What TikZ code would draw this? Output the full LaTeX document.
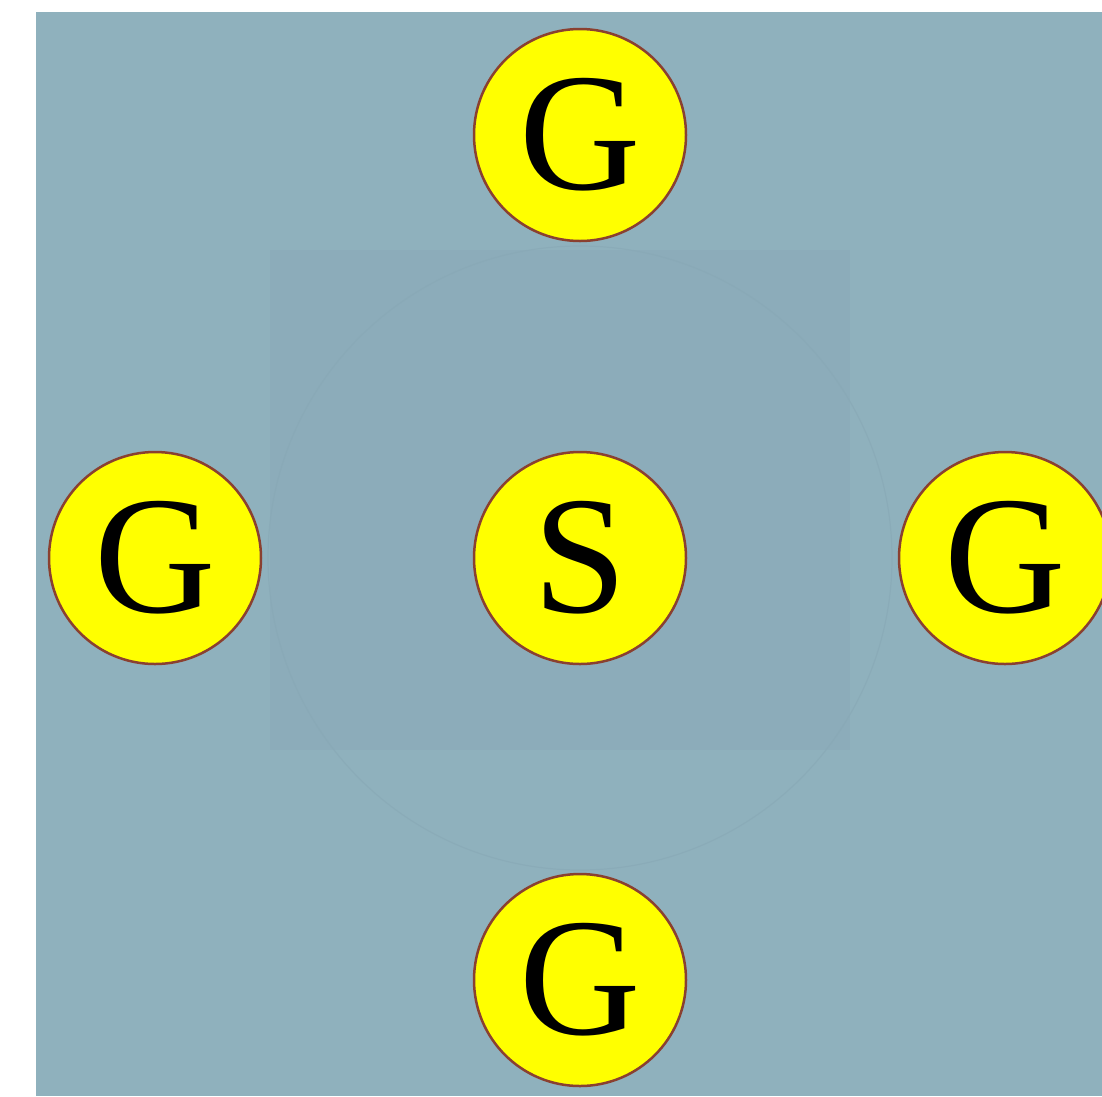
\documentclass[tikz,border=0pt]{standalone}
\usepackage{fontspec}
\setmainfont{Liberation Serif}
\definecolor{bgblue}{HTML}{8FB1BD}
\definecolor{bgdark}{HTML}{8CACBA}
\definecolor{ringcol}{HTML}{88A8B5}
\definecolor{nodeyellow}{HTML}{FFFF00}
\definecolor{nodeborder}{HTML}{8A4030}
\begin{document}
\begin{tikzpicture}[x=1pt,y=-1pt,
  nodecircle/.style={circle, draw=nodeborder, line width=2.5pt, fill=nodeyellow,
    minimum size=212pt, inner sep=0pt,
    font=\fontsize{168}{168}\selectfont, text=black}]
\useasboundingbox (0,0) rectangle (1102,1096);
\fill[white] (0,0) rectangle (1102,1096);
\fill[bgblue] (36,12) rectangle (1102,1096);
\fill[bgdark] (270,250) rectangle (850,750);
\draw[ringcol, line width=1.2pt, opacity=0.6] (580,558) circle (312);
\node[nodecircle] (top) at (580,135) {G};
\node[nodecircle] (left) at (155,558) {G};
\node[nodecircle] (center) at (580,558) {S};
\node[nodecircle] (right) at (1005,558) {G};
\node[nodecircle] (bottom) at (580,980) {G};
\end{tikzpicture}
\end{document}
